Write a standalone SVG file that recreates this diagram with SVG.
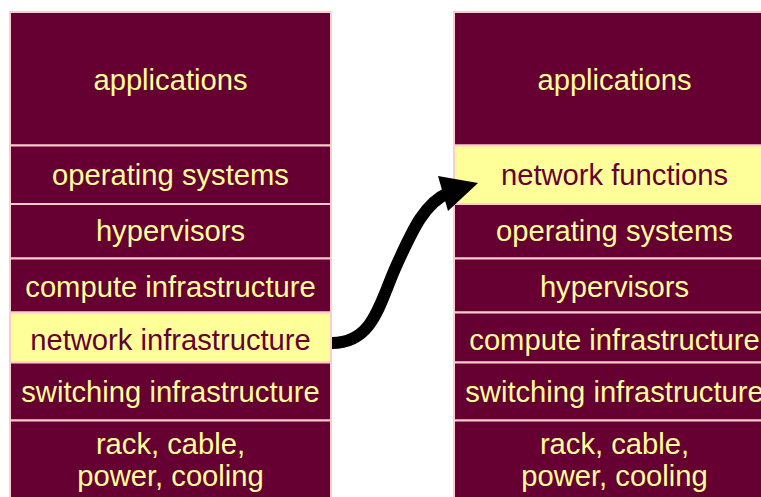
<svg xmlns="http://www.w3.org/2000/svg" width="761" height="497" viewBox="0 0 761 497">
<style>
.box{fill:#660033;stroke:#ffcccc;stroke-width:2}
.hl{fill:#ffff99;stroke:#ffcccc;stroke-width:2}
text{font-family:"Liberation Sans",Arial,sans-serif;font-size:29.2px;text-anchor:middle}
.lt{fill:#ffff99}
.dk{fill:#660033}
</style>
<rect width="761" height="497" fill="#ffffff"/>
<g id="left-stack">
<g id="l-applications"><rect class="box" x="10" y="12" width="321" height="133.5"/><text class="lt" x="170.5" y="90">applications</text></g>
<g id="l-os"><rect class="box" x="10" y="145.5" width="321" height="58.5"/><text class="lt" x="170.5" y="185">operating systems</text></g>
<g id="l-hypervisors"><rect class="box" x="10" y="204" width="321" height="54.5"/><text class="lt" x="170.5" y="241">hypervisors</text></g>
<g id="l-compute"><rect class="box" x="10" y="258.5" width="321" height="54"/><text class="lt" x="170.5" y="296.5">compute infrastructure</text></g>
<g id="l-network"><rect class="hl" x="10" y="312.5" width="321" height="50"/><text class="dk" x="170.5" y="350">network infrastructure</text></g>
<g id="l-switching"><rect class="box" x="10" y="362.5" width="321" height="58"/><text class="lt" x="170.5" y="401.5">switching infrastructure</text></g>
<g id="l-rack"><rect class="box" x="10" y="420.5" width="321" height="90"/><text class="lt" x="170.5" y="453.5">rack, cable,</text><text class="lt" x="170.5" y="485.5">power, cooling</text></g>
</g>
<g id="right-stack">
<g id="r-applications"><rect class="box" x="454" y="12" width="321" height="133.5"/><text class="lt" x="614.5" y="90">applications</text></g>
<g id="r-nf"><rect class="hl" x="454" y="145.5" width="321" height="58.5"/><text class="dk" x="614.5" y="185">network functions</text></g>
<g id="r-os"><rect class="box" x="454" y="204" width="321" height="54.5"/><text class="lt" x="614.5" y="241">operating systems</text></g>
<g id="r-hypervisors"><rect class="box" x="454" y="258.5" width="321" height="54"/><text class="lt" x="614.5" y="296.5">hypervisors</text></g>
<g id="r-compute"><rect class="box" x="454" y="312.5" width="321" height="50"/><text class="lt" x="614.5" y="350">compute infrastructure</text></g>
<g id="r-switching"><rect class="box" x="454" y="362.5" width="321" height="58"/><text class="lt" x="614.5" y="401.5">switching infrastructure</text></g>
<g id="r-rack"><rect class="box" x="454" y="420.5" width="321" height="90"/><text class="lt" x="614.5" y="453.5">rack, cable,</text><text class="lt" x="614.5" y="485.5">power, cooling</text></g>
</g>
<g id="connectors">
<path d="M332,343 C375,343 380,300 398,262 C413,229 425,203 448,193" fill="none" stroke="#000000" stroke-width="12"/>
<polygon points="438,176 478,183 448,211" fill="#000000"/>
</g>
</svg>
